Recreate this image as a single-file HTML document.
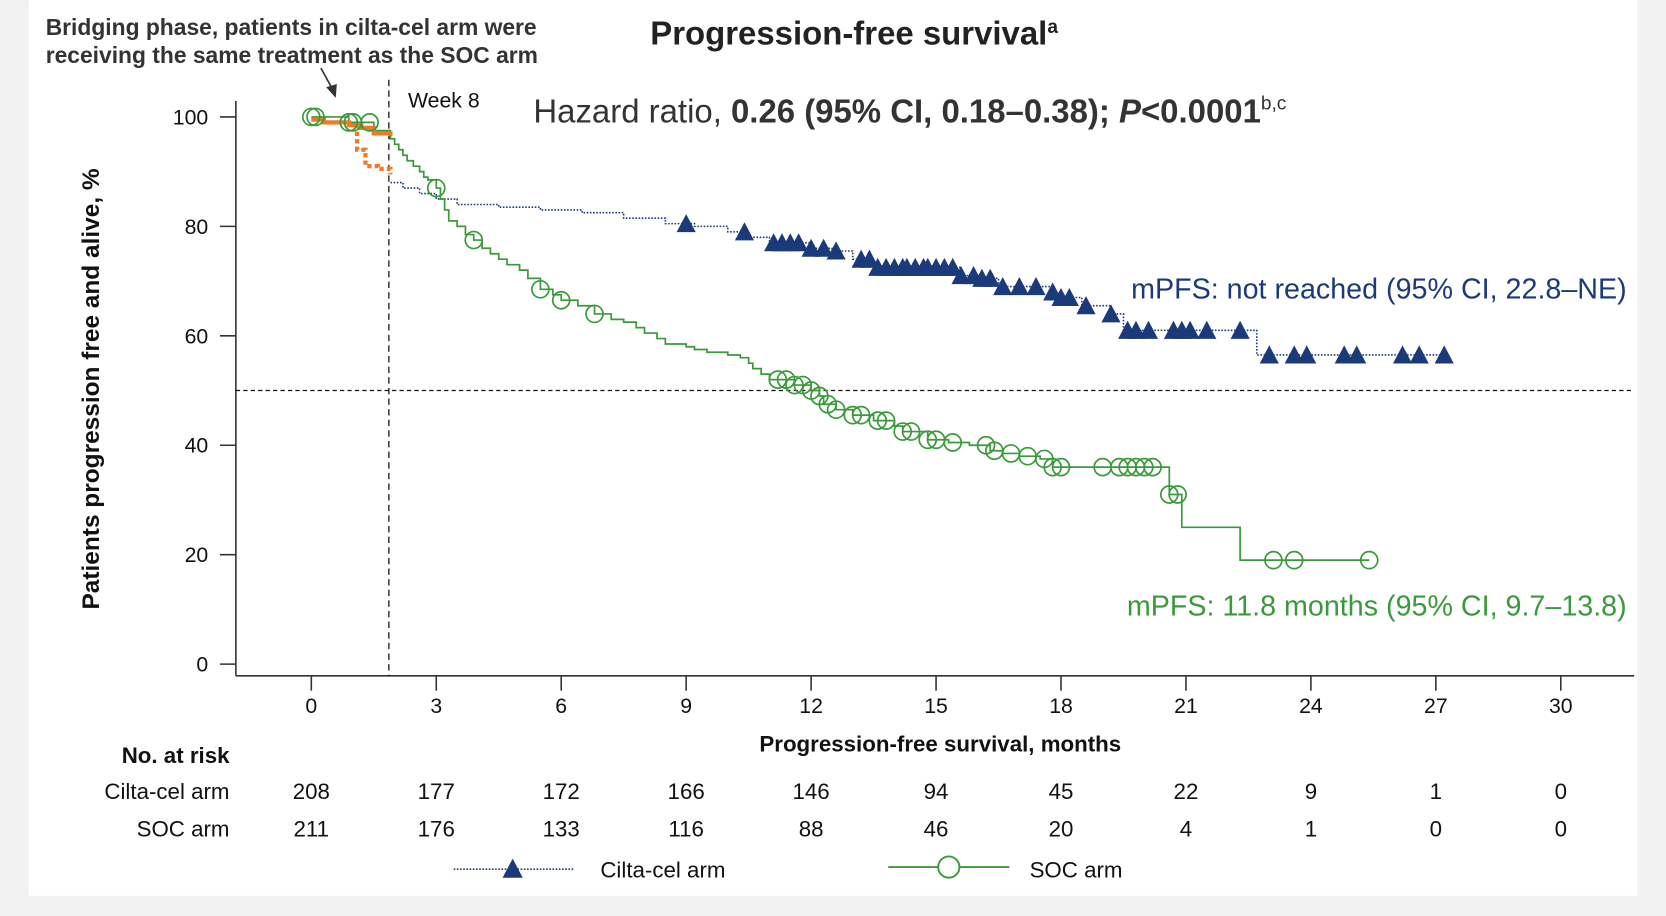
<!DOCTYPE html>
<html><head><meta charset="utf-8"><style>
html,body{margin:0;padding:0;background:#f2f2f2;}
svg{display:block;font-family:"Liberation Sans",sans-serif;}
</style></head><body>
<svg id="chart" width="1666" height="916" viewBox="0 0 1568 862" xmlns="http://www.w3.org/2000/svg">
<rect x="27" y="0" width="1514" height="843" fill="#fff"/>
<g id="g"></g>
</svg>
<script>
// data
const xTicks=[0,3,6,9,12,15,18,21,24,27,30];
const yTicks=[0,20,40,60,80,100];
const riskCilta=[208,177,172,166,146,94,45,22,9,1,0];
const riskSoc=[211,176,133,116,88,46,20,4,1,0,0];
const bridgeSolidT=[0,0.3,0.9,1.2,1.5,1.9];
const bridgeSolidS=[99.5,99,98.5,98,97,96.5];
const bridgeDotT=[0.9,1.1,1.3,1.6,1.9];
const bridgeDotS=[98.5,94,91,90.5,89.5];
const ciltaT=[1.9,2.2,2.6,3.0,3.5,4.5,5.5,6.5,7.5,8.5,9.2,10,10.5,11,12,12.5,13,13.5,15.6,16,16.5,17.8,18,18.5,19.2,19.5,22.7,27.2];
const ciltaS=[88,87,86,85,84,83.5,83,82.5,81.5,80.5,80,79,78,77,76,75.5,74,72.5,71,70.5,69,68,67,65.5,64,61,56.5,56.5];
const ciltaCensor=[9,10.4,11.1,11.3,11.5,11.7,12,12.3,12.6,13.2,13.4,13.6,13.8,14,14.2,14.3,14.5,14.7,14.8,15,15.2,15.4,15.6,15.9,16.1,16.3,16.6,17,17.4,17.8,18,18.2,18.6,19.2,19.6,19.8,20.1,20.7,20.9,21.1,21.5,22.3,23,23.6,23.9,24.8,25.1,26.2,26.6,27.2];
const socT=[0,0.9,1.5,1.9,2.0,2.1,2.2,2.3,2.45,2.6,2.7,2.8,3.0,3.1,3.2,3.3,3.5,3.7,3.9,4.1,4.3,4.5,4.7,5.0,5.2,5.5,5.8,6.0,6.4,6.8,7.2,7.5,7.8,8.0,8.3,8.5,9.0,9.2,9.5,10.0,10.3,10.5,10.6,10.8,11.0,11.6,12.0,12.2,12.3,12.6,13.0,13.5,14.0,14.2,14.8,15.3,15.8,16.3,16.6,17.0,17.5,17.8,20.6,20.9,22.3,25.4];
const socS=[100,99,97.5,96,95,94,93,92,91,90,89,88.5,87,85,83,81,80,78.5,77.5,76,75,74,73,72,70.5,68.5,67.5,66.5,65.5,64,63,62.5,61.5,60.5,59.5,58.5,58,57.5,57,56.5,56,55,54,53,52,51,50,49,47.5,46.5,45.5,44.5,43.5,42.5,41,40.5,40,39,38.5,38,37.5,36,31,25,19,19];
const socCensor=[0,0.1,0.9,1.0,1.4,3.0,3.9,5.5,6.0,6.8,11.2,11.4,11.6,11.8,12.0,12.2,12.4,12.6,13.0,13.2,13.6,13.8,14.2,14.4,14.8,15.0,15.4,16.2,16.4,16.8,17.2,17.6,17.8,18.0,19.0,19.4,19.6,19.8,20.0,20.2,20.6,20.8,23.1,23.6,25.4];

const X=m=>293+39.2*m, Y=p=>625-5.15*p;
const NS="http://www.w3.org/2000/svg", g=document.getElementById('g');
function mk(tag,a,txt){const e=document.createElementNS(NS,tag);for(const k in a)e.setAttribute(k,a[k]);if(txt!==undefined)e.textContent=txt;g.appendChild(e);return e;}
function stepPath(T,S){let d=`M${X(T[0])},${Y(S[0])}`;for(let i=1;i<T.length;i++){d+=` H${X(T[i])} V${Y(S[i])}`;}return d;}
function sAt(T,S,t){let v=S[0];for(let i=0;i<T.length;i++){if(T[i]<=t)v=S[i];}return v;}

let e;
e=mk('line',{x1:222,y1:95,x2:222,y2:636,stroke:'#333','stroke-width':1.5});

e=mk('line',{x1:222,y1:636,x2:1538,y2:636,stroke:'#333','stroke-width':1.5});

yTicks.forEach(v=>{
 e=mk('line',{x1:207,x2:222,y1:Y(v),y2:Y(v),stroke:'#333','stroke-width':1.5});
 
 e=mk('text',{x:196,y:Y(v)+7,'text-anchor':'end','font-size':20,fill:'#111'},v);
 
});
xTicks.forEach((v,i)=>{
 e=mk('line',{x1:X(v),x2:X(v),y1:636,y2:650,stroke:'#333','stroke-width':1.5});
 
 e=mk('text',{x:X(v),y:671,'text-anchor':'middle','font-size':20,fill:'#111'},v);
 
 e=mk('text',{x:X(v),y:752,'text-anchor':'middle','font-size':21,fill:'#111'},riskCilta[i]);
 
 e=mk('text',{x:X(v),y:787,'text-anchor':'middle','font-size':21,fill:'#111'},riskSoc[i]);
 
});
e=mk('line',{x1:222,x2:1538,y1:Y(50),y2:Y(50),stroke:'#111','stroke-width':1.2,'stroke-dasharray':'4,3'});

e=mk('line',{x1:366,x2:366,y1:75,y2:636,stroke:'#111','stroke-width':1.2,'stroke-dasharray':'6,4'});


e=mk('path',{d:stepPath(ciltaT,ciltaS),fill:'none',stroke:'#1a3a7a','stroke-width':1.5,'stroke-dasharray':'1.5,1.5'});

e=mk('path',{d:stepPath(socT,socS),fill:'none',stroke:'#3a9a3a','stroke-width':1.6});

e=mk('path',{d:stepPath(bridgeDotT,bridgeDotS),fill:'none',stroke:'#f07a28','stroke-width':4,'stroke-dasharray':'4,3'});

e=mk('path',{d:stepPath(bridgeSolidT,bridgeSolidS),fill:'none',stroke:'#f07a28','stroke-width':4});


socCensor.forEach(t=>{
 e=mk('circle',{cx:X(t),cy:Y(sAt(socT,socS,t)),r:8,fill:'none',stroke:'#3a9a3a','stroke-width':1.6});
 
});
ciltaCensor.forEach(t=>{
 const cx=X(t),cy=Y(sAt(ciltaT,ciltaS,t));
 e=mk('polygon',{points:`${cx-9},${cy+8} ${cx+9},${cy+8} ${cx},${cy-9}`,fill:'#1a3a7a'});
 
});
</script>
<svg style="position:absolute;left:0;top:0" width="1666" height="916" viewBox="0 0 1568 862" xmlns="http://www.w3.org/2000/svg">
<text x="612" y="42" font-size="31" font-weight="bold" fill="#222">Progression-free survival<tspan font-size="18" dy="-11">a</tspan></text>
<text x="43" y="33" font-size="21.5" font-weight="bold" fill="#333">Bridging phase, patients in cilta-cel arm were</text>
<text x="43" y="59" font-size="21.5" font-weight="bold" fill="#333">receiving the same treatment as the SOC arm</text>
<line x1="302" y1="64" x2="313" y2="84" stroke="#333" stroke-width="1.5"/>
<polygon points="316,92 307,82 317,79" fill="#333"/>
<text x="384" y="101" font-size="20" fill="#111">Week 8</text>
<text x="502" y="115" font-size="31" fill="#333">Hazard ratio, <tspan font-weight="bold">0.26 (95% CI, 0.18–0.38); <tspan font-style="italic">P</tspan>&lt;0.0001</tspan><tspan font-size="18" dy="-12">b,c</tspan></text>
<text x="1531" y="281" text-anchor="end" font-size="27" fill="#1a3a7a">mPFS: not reached (95% CI, 22.8–NE)</text>
<text x="1531" y="579" text-anchor="end" font-size="27" fill="#3a9a3a">mPFS: 11.8 months (95% CI, 9.7–13.8)</text>
<text transform="translate(93,366) rotate(-90)" text-anchor="middle" font-size="23" font-weight="bold" fill="#111">Patients progression free and alive, %</text>
<text x="885" y="707" text-anchor="middle" font-size="21" font-weight="bold" fill="#111">Progression-free survival, months</text>
<text x="216" y="718" text-anchor="end" font-size="21" font-weight="bold" fill="#111">No. at risk</text>
<text x="216" y="752" text-anchor="end" font-size="21" fill="#111">Cilta-cel arm</text>
<text x="216" y="787" text-anchor="end" font-size="21" fill="#111">SOC arm</text>
<g>
<line x1="427" y1="818" x2="541" y2="818" stroke="#1a3a7a" stroke-width="1.5" stroke-dasharray="1.5,1.5"/>
<polygon points="473,826 492,826 482.5,808" fill="#1a3a7a"/>
<text x="565" y="826" font-size="21" fill="#111">Cilta-cel arm</text>
</g>
<g>
<line x1="836" y1="816" x2="950" y2="816" stroke="#3a9a3a" stroke-width="1.8"/>
<circle cx="893" cy="816" r="10" fill="#fff" stroke="#3a9a3a" stroke-width="1.8"/>
<text x="969" y="826" font-size="21" fill="#111">SOC arm</text>
</g>
</svg>
</body></html>
